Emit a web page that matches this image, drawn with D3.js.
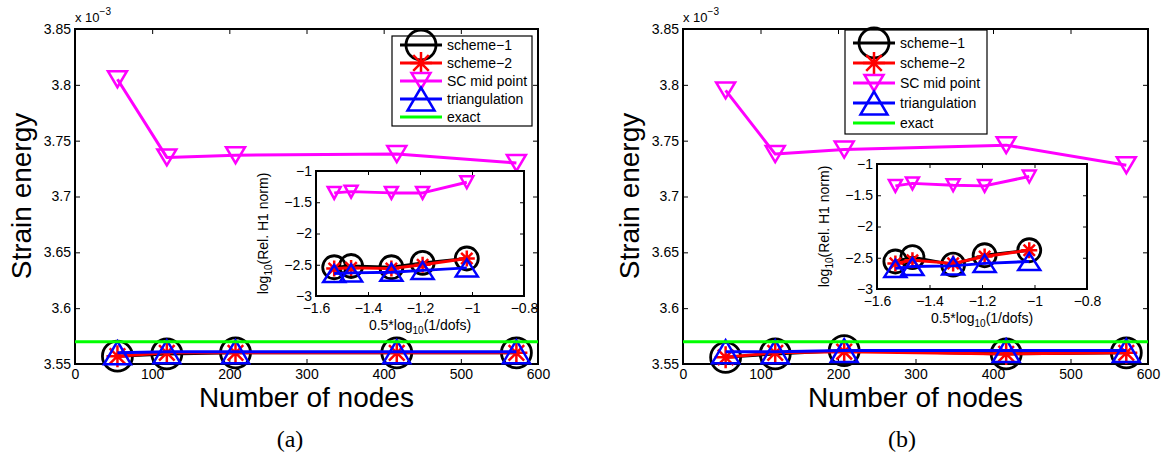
<!DOCTYPE html>
<html lang="en">
<head>
<meta charset="UTF-8">
<title>Strain energy</title>
<style>
  body { background: white; margin: 0; padding: 0; }
  svg text { font-family: "Liberation Sans", Arial, sans-serif; fill: #000; }
  .caption { font-family: "Liberation Serif", "Times New Roman", serif; font-size: 24px; }
</style>
</head>
<body>
<script src="https://cdn.jsdelivr.net/npm/d3@7"></script>
<script>
// number of nodes, shared by all series
var nodes = [55, 119, 208, 417, 572];

// strain energy (x 1e-3), panel (a)
var scheme1A = [3.557, 3.559, 3.560, 3.560, 3.560];
var scheme2A = [3.557, 3.560, 3.560, 3.560, 3.560];
var midA = [3.805, 3.735, 3.737, 3.738, 3.730];
var triA = [3.560, 3.561, 3.561, 3.561, 3.561];
// strain energy (x 1e-3), panel (b)
var scheme1B = [3.556, 3.559, 3.562, 3.559, 3.560];
var scheme2B = [3.556, 3.560, 3.561, 3.559, 3.560];
var midB = [3.795, 3.738, 3.742, 3.746, 3.728];
var triB = [3.561, 3.561, 3.562, 3.562, 3.562];
var exact = 3.570;

// inset: log10(rel. H1 norm) against 0.5*log10(1/dofs)
var dofsX = [-1.53, -1.465, -1.31, -1.19, -1.02];
var errScheme1A = [-2.54, -2.52, -2.54, -2.47, -2.40];
var errScheme2A = [-2.56, -2.55, -2.56, -2.50, -2.40];
var errMidA = [-1.35, -1.33, -1.35, -1.35, -1.18];
var errTriA = [-2.64, -2.63, -2.62, -2.59, -2.55];
var errScheme1B = [-2.56, -2.49, -2.61, -2.46, -2.38];
var errScheme2B = [-2.59, -2.54, -2.59, -2.48, -2.38];
var errMidB = [-1.35, -1.31, -1.34, -1.35, -1.20];
var errTriB = [-2.67, -2.64, -2.63, -2.59, -2.56];

var xTicks = [0, 100, 200, 300, 400, 500, 600];
var yTicks = [3.55, 3.6, 3.65, 3.7, 3.75, 3.8, 3.85];
var insetXTicks = [-1.6, -1.4, -1.2, -1, -0.8];
var insetYTicks = [-3, -2.5, -2, -1.5, -1];

var legendNames = ['scheme\u22121', 'scheme\u22122', 'SC mid point', 'triangulation', 'exact'];

var styles = [
  { color: '#000000', marker: 'o' },
  { color: '#ff0000', marker: '*' },
  { color: '#ff00ff', marker: 'v' },
  { color: '#0000ff', marker: '^' },
  { color: '#00ff00', marker: null }
];
var bigMarks = { o: 15, star: 11, v: [9.5, 16], up: [13.5, 23] };
var smallMarks = { o: 11.5, star: 8, v: [6.5, 12], up: [11, 17] };

var fmt = d3.format('~g');

var svg = d3.select('body').append('svg')
  .attr('width', 1171)
  .attr('height', 460)
  .style('background', 'white');

function drawMarker(g, type, cx, cy, m, color) {
  if (type === 'o') {
    g.append('circle').attr('cx', cx).attr('cy', cy).attr('r', m.o)
      .attr('fill', 'none').attr('stroke', color).attr('stroke-width', 2.8);
  } else if (type === '*') {
    var s = m.star, d = s * 0.707;
    g.append('path')
      .attr('d', 'M' + (cx - s) + ',' + cy + 'H' + (cx + s) +
        'M' + cx + ',' + (cy - s) + 'V' + (cy + s) +
        'M' + (cx - d) + ',' + (cy - d) + 'L' + (cx + d) + ',' + (cy + d) +
        'M' + (cx - d) + ',' + (cy + d) + 'L' + (cx + d) + ',' + (cy - d))
      .attr('stroke', color).attr('stroke-width', 2.5).attr('fill', 'none');
  } else if (type === 'v' || type === '^') {
    var w = type === 'v' ? m.v[0] : m.up[0];
    var h = type === 'v' ? m.v[1] : m.up[1];
    var tip = type === 'v' ? cy + h / 2 : cy - h / 2;
    var base = type === 'v' ? cy - h / 2 : cy + h / 2;
    g.append('path')
      .attr('d', 'M' + cx + ',' + tip + 'L' + (cx - w) + ',' + base + 'L' + (cx + w) + ',' + base + 'Z')
      .attr('stroke', color).attr('stroke-width', 2.5).attr('fill', 'none');
  }
}

function drawSeries(g, x, y, xs, ys, st, m) {
  var line = d3.line().x(function(d, i) { return x(xs[i]); }).y(function(d) { return y(d); });
  g.append('path').datum(ys).attr('d', line)
    .attr('fill', 'none').attr('stroke', st.color).attr('stroke-width', 3)
    .attr('stroke-linejoin', 'round');
  ys.forEach(function(v, i) {
    drawMarker(g, st.marker, x(xs[i]), y(v), m, st.color);
  });
}

// inward ticks on all four sides, labels only bottom/left
function drawBox(g, x, y, xt, yt, tick, pad) {
  var r = x.range(), t = y.range();
  var bottom = g.append('g').attr('transform', 'translate(0,' + t[0] + ')')
    .call(d3.axisBottom(x).tickValues(xt).tickSize(-tick).tickPadding(pad.x).tickFormat(fmt));
  var top = g.append('g').attr('transform', 'translate(0,' + t[1] + ')')
    .call(d3.axisTop(x).tickValues(xt).tickSize(-tick).tickFormat(''));
  var left = g.append('g').attr('transform', 'translate(' + r[0] + ',0)')
    .call(d3.axisLeft(y).tickValues(yt).tickSize(-tick).tickPadding(pad.y).tickFormat(fmt));
  var right = g.append('g').attr('transform', 'translate(' + r[1] + ',0)')
    .call(d3.axisRight(y).tickValues(yt).tickSize(-tick).tickFormat(''));
  [bottom, top, left, right].forEach(function(a) {
    a.select('.domain').remove();
    a.attr('font-family', null).attr('font-size', 14);
    a.selectAll('line').attr('stroke', '#000').attr('stroke-width', 1);
  });
  g.append('rect')
    .attr('x', r[0]).attr('y', t[1])
    .attr('width', r[1] - r[0]).attr('height', t[0] - t[1])
    .attr('fill', 'none').attr('stroke', '#000').attr('stroke-width', 2);
}

function drawPanel(p) {
  var g = svg.append('g');
  var x = d3.scaleLinear().domain([0, 600]).range([p.left, p.right]);
  var y = d3.scaleLinear().domain([3.55, 3.85]).range([364, 29]);

  drawBox(g, x, y, xTicks, yTicks, 5, { x: 5, y: 4 });

  // scale factor note
  var sf = g.append('text').attr('x', p.left).attr('y', 22).attr('font-size', 13).text('x 10');
  sf.append('tspan').attr('dy', -7).attr('font-size', 10).text('\u22123');

  var series = [p.s1, p.s2, p.mid, p.tri];
  series.forEach(function(ys, k) { drawSeries(g, x, y, nodes, ys, styles[k], bigMarks); });
  g.append('line')
    .attr('x1', x(0)).attr('x2', x(600)).attr('y1', y(exact)).attr('y2', y(exact))
    .attr('stroke', styles[4].color).attr('stroke-width', 3);

  g.append('text')
    .attr('transform', 'translate(' + (p.left - 44) + ',196) rotate(-90)')
    .attr('text-anchor', 'middle').attr('font-size', 28).text('Strain energy');
  g.append('text')
    .attr('x', (p.left + p.right) / 2).attr('y', 407)
    .attr('text-anchor', 'middle').attr('font-size', 28).text('Number of nodes');
  g.append('text').attr('class', 'caption')
    .attr('x', p.caption).attr('y', 447).attr('text-anchor', 'middle').text(p.label);

  // legend
  var L = p.legend;
  var lg = g.append('g');
  lg.append('rect').attr('x', L.x).attr('y', L.y).attr('width', L.w).attr('height', L.h)
    .attr('fill', 'white').attr('stroke', '#000').attr('stroke-width', 1.2);
  legendNames.forEach(function(name, k) {
    var ry = L.y + L.first + k * L.step;
    lg.append('line').attr('x1', L.x + 8).attr('x2', L.x + 50).attr('y1', ry).attr('y2', ry)
      .attr('stroke', styles[k].color).attr('stroke-width', 3);
    drawMarker(lg, styles[k].marker, L.x + 29, ry, bigMarks, styles[k].color);
    lg.append('text').attr('x', L.x + 55).attr('y', ry).attr('dy', '0.35em')
      .attr('font-size', 14).text(name);
  });

  // inset
  var I = p.inset;
  var ig = g.append('g');
  ig.append('rect').attr('x', I.left).attr('y', I.top)
    .attr('width', I.right - I.left).attr('height', I.bottom - I.top).attr('fill', 'white');
  var ix = d3.scaleLinear().domain([-1.6, -0.8]).range([I.left, I.right]);
  var iy = d3.scaleLinear().domain([-3, -1]).range([I.bottom, I.top]);
  drawBox(ig, ix, iy, insetXTicks, insetYTicks, 4, { x: 7, y: 4 });
  var errs = [p.e1, p.e2, p.eMid, p.eTri];
  errs.forEach(function(ys, k) { drawSeries(ig, ix, iy, dofsX, ys, styles[k], smallMarks); });

  var yl = ig.append('text')
    .attr('transform', 'translate(' + (I.left - 48) + ',' + ((I.top + I.bottom) / 2) + ') rotate(-90)')
    .attr('text-anchor', 'middle').attr('font-size', 14).text('log');
  yl.append('tspan').attr('dy', 4).attr('font-size', 10).text('10');
  yl.append('tspan').attr('dy', -4).text('(Rel. H1 norm)');

  var xl = ig.append('text')
    .attr('x', (I.left + I.right) / 2).attr('y', I.bottom + 34)
    .attr('text-anchor', 'middle').attr('font-size', 14).text('0.5*log');
  xl.append('tspan').attr('dy', 4).attr('font-size', 10).text('10');
  xl.append('tspan').attr('dy', -4).text('(1/dofs)');
}

drawPanel({
  left: 75, right: 538, caption: 290, label: '(a)',
  s1: scheme1A, s2: scheme2A, mid: midA, tri: triA,
  e1: errScheme1A, e2: errScheme2A, eMid: errMidA, eTri: errTriA,
  legend: { x: 392, y: 36, w: 140, h: 90, first: 9, step: 18 },
  inset: { left: 316, right: 524, top: 171, bottom: 296 }
});

drawPanel({
  left: 683, right: 1148, caption: 902, label: '(b)',
  s1: scheme1B, s2: scheme2B, mid: midB, tri: triB,
  e1: errScheme1B, e2: errScheme2B, eMid: errMidB, eTri: errTriB,
  legend: { x: 845, y: 30, w: 142, h: 104, first: 13, step: 20 },
  inset: { left: 877, right: 1087, top: 164, bottom: 289 }
});
</script>
</body>
</html>
